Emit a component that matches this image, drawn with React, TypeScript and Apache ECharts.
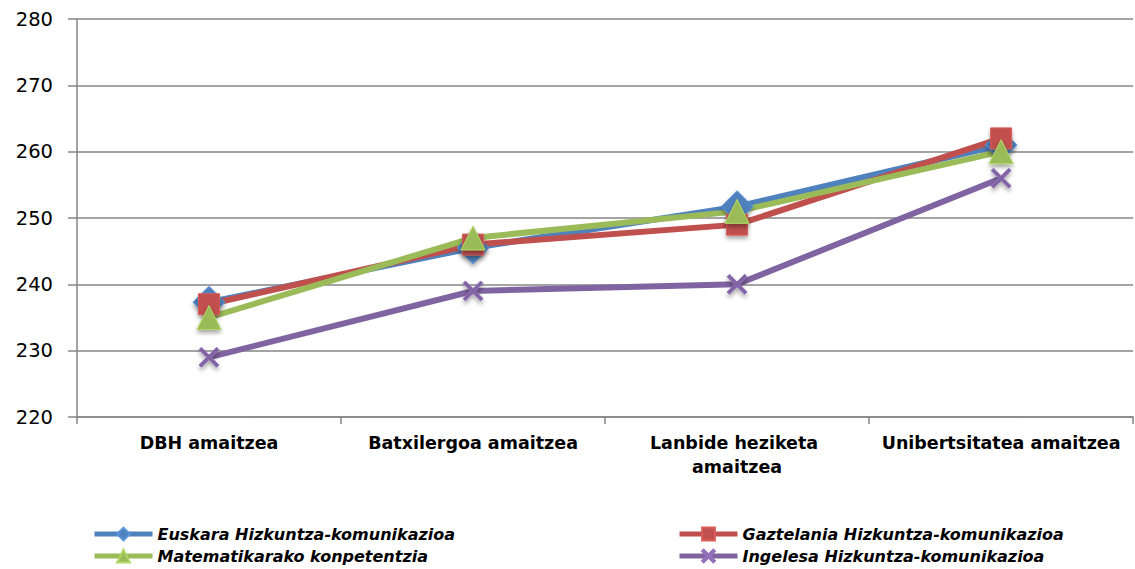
import React, { useEffect, useRef } from "react";
import * as echarts from "echarts";

const categories = ["DBH amaitzea", "Batxilergoa amaitzea", "Lanbide heziketa amaitzea", "Unibertsitatea amaitzea"];
const seriesNames = [
  "Euskara Hizkuntza-komunikazioa",
  "Gaztelania Hizkuntza-komunikazioa",
  "Matematikarako konpetentzia",
  "Ingelesa Hizkuntza-komunikazioa",
];
const euskara = [237.3, 245.5, 251.7, 261];
const gaztelania = [237, 246, 249, 262];
const matematika = [235, 247, 251, 260];
const ingelesa = [229, 239, 240, 256];
const yTicks = { min: 220, max: 280, interval: 10 };

const colors = ["#4F81BD", "#C0504D", "#9BBB59", "#8064A2"];
const symbols = [
  "diamond",
  "rect",
  "triangle",
  "path://M0,1.2 L1.2,0 L5,3.8 L8.8,0 L10,1.2 L6.2,5 L10,8.8 L8.8,10 L5,6.2 L1.2,10 L0,8.8 L3.8,5 Z",
];
const symbolSizes = [32, 21, 24, 20];

export default function App() {
  const ref = useRef<HTMLDivElement>(null);
  useEffect(() => {
    if (!ref.current) return;
    const chart = echarts.init(ref.current, undefined, { renderer: "svg" });
    const values = [euskara, gaztelania, matematika, ingelesa];
    const legendPos = [
      { left: 92, top: 526 },
      { left: 677, top: 526 },
      { left: 92, top: 548 },
      { left: 677, top: 548 },
    ];
    chart.setOption({
      animation: false,
      backgroundColor: "#ffffff",
      grid: { left: 77, right: 1, top: 19, bottom: 152, containLabel: false },
      xAxis: {
        type: "category",
        data: categories,
        boundaryGap: true,
        axisLine: { lineStyle: { color: "#868686", width: 1.5 } },
        axisTick: { show: true, length: 7, lineStyle: { color: "#868686", width: 1.5 } },
        axisLabel: {
          interval: 0,
          color: "#000",
          fontFamily: "DejaVu Sans",
          fontWeight: "bold",
          fontSize: 17.5,
          margin: 14,
          width: 262,
          overflow: "break",
          lineHeight: 24,
        },
      },
      yAxis: {
        type: "value",
        min: yTicks.min,
        max: yTicks.max,
        interval: yTicks.interval,
        axisLine: { show: true, lineStyle: { color: "#868686", width: 1.5 } },
        axisTick: { show: true, length: 9, lineStyle: { color: "#868686", width: 1.5 } },
        splitLine: { lineStyle: { color: "#868686", width: 1.5 } },
        axisLabel: { color: "#000", fontFamily: "DejaVu Sans", fontSize: 19.5, margin: 24 },
      },
      legend: seriesNames.map((n, i) => ({
        data: [n],
        left: legendPos[i].left,
        top: legendPos[i].top,
        itemWidth: 58,
        itemHeight: 16,
        itemGap: 2,
        padding: 0,
        lineStyle: { width: 5 },
        textStyle: {
          fontFamily: "DejaVu Sans",
          fontWeight: "bold",
          fontStyle: "italic",
          fontSize: 16,
          color: "#000",
        },
      })),
      series: seriesNames.map((n, i) => ({
        name: n,
        type: "line",
        data: values[i],
        symbol: symbols[i],
        symbolSize: symbolSizes[i],
        lineStyle: { color: colors[i], width: 6 },
        itemStyle: {
          color: colors[i],
          borderColor: echarts.color.lift(colors[i], -0.15),
          borderWidth: 1,
          shadowColor: "rgba(0,0,0,0.35)",
          shadowBlur: 4,
          shadowOffsetY: 3,
        },
      })),
    });
    return () => chart.dispose();
  }, []);
  return (
    <div
      ref={ref}
      style={{ position: "fixed", left: 0, top: 0, width: 1135, height: 569, background: "#fff" }}
    />
  );
}
